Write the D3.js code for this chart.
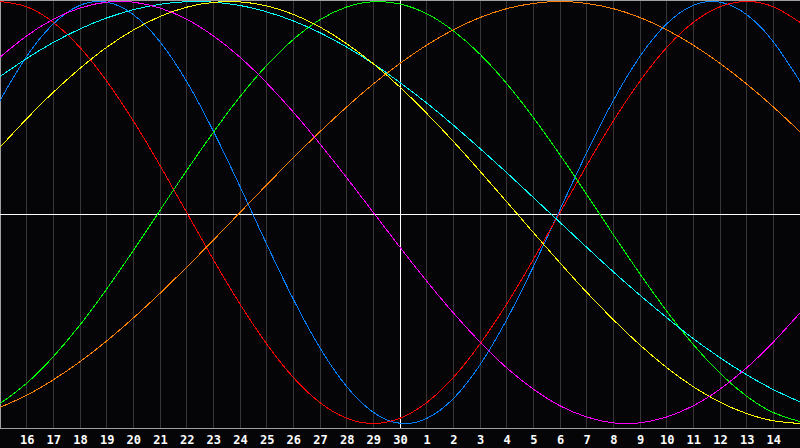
<!DOCTYPE html>
<html>
<head>
<meta charset="utf-8">
<script src="https://cdn.jsdelivr.net/npm/d3@7"></script>
<style>
  html, body { margin: 0; padding: 0; background: #050508; }
  svg { display: block; }
</style>
</head>
<body>
<svg id="chart" width="800" height="448"></svg>
<script>
// Day labels along the bottom (index 0 and 30 are the unlabelled edges)
const days = [15,16,17,18,19,20,21,22,23,24,25,26,27,28,29,30,1,2,3,4,5,6,7,8,9,10,11,12,13,14,15];
const centerDay = 15; // index of "30"

// Series values per day (-1 .. 1)
const physical     = [0.531,0.740,0.894,0.982,0.997,0.938,0.809,0.621,0.386,0.123,-0.150,-0.411,-0.642,-0.825,-0.947,-0.999,-0.976,-0.882,-0.722,-0.508,-0.257,0.014,0.283,0.531,0.740,0.894,0.982,0.997,0.938,0.809,0.621];
const emotional    = [1,0.975,0.901,0.782,0.623,0.434,0.223,0,-0.223,-0.434,-0.623,-0.782,-0.901,-0.975,-1,-0.975,-0.901,-0.782,-0.623,-0.434,-0.223,0,0.223,0.434,0.623,0.782,0.901,0.975,1,0.975,0.901];
const intellectual = [-0.906,-0.809,-0.683,-0.533,-0.363,-0.180,0.010,0.199,0.380,0.549,0.697,0.820,0.914,0.974,0.999,0.988,0.942,0.861,0.750,0.611,0.450,0.273,0.086,-0.105,-0.291,-0.467,-0.626,-0.762,-0.871,-0.948,-0.991];
const intuitive    = [0.736,0.837,0.916,0.969,0.997,0.997,0.969,0.916,0.837,0.736,0.614,0.476,0.325,0.165,0,-0.165,-0.325,-0.476,-0.614,-0.736,-0.837,-0.916,-0.969,-0.997,-0.997,-0.969,-0.916,-0.837,-0.736,-0.614,-0.476];
const aesthetic    = [0.309,0.444,0.570,0.683,0.783,0.865,0.929,0.973,0.996,0.998,0.979,0.939,0.879,0.800,0.705,0.594,0.470,0.337,0.196,0.051,-0.095,-0.239,-0.378,-0.508,-0.628,-0.735,-0.826,-0.899,-0.953,-0.987,-1.000];
const awareness    = [-0.924,-0.866,-0.793,-0.707,-0.609,-0.5,-0.383,-0.259,-0.131,0,0.131,0.259,0.383,0.5,0.609,0.707,0.793,0.866,0.924,0.966,0.991,1,0.991,0.966,0.924,0.866,0.793,0.707,0.609,0.5,0.383];
const spiritual    = [0.644,0.730,0.806,0.870,0.922,0.961,0.987,0.999,0.997,0.981,0.951,0.908,0.852,0.784,0.705,0.616,0.519,0.414,0.303,0.189,0.071,-0.047,-0.165,-0.281,-0.392,-0.498,-0.598,-0.688,-0.769,-0.839,-0.898];

const seriesNames  = ["physical","emotional","intellectual","spiritual","aesthetic","awareness","intuitive"];
const seriesValues = [physical, emotional, intellectual, spiritual, aesthetic, awareness, intuitive];
const seriesColors = ["#0080ff","#ff0000","#00ff00","#00ffff","#ffff00","#ff8000","#ff00ff"];

const W = 800, H = 448, plotH = 428;
const svg = d3.select("#chart");

const x = d3.scaleLinear().domain([0, days.length - 1]).range([0, W]);
const y = d3.scaleLinear().domain([-1, 1]).range([423.5, 1.5]);

svg.append("rect").attr("width", W).attr("height", H).attr("fill", "#050508");

const clip = svg.append("defs").append("clipPath").attr("id", "plotclip");
clip.append("rect").attr("x", 0).attr("y", 0).attr("width", W).attr("height", plotH);

// vertical day grid
const idx = d3.range(1, days.length - 1);
svg.append("g").selectAll("line")
  .data(idx.filter(i => i !== centerDay))
  .join("line")
  .attr("x1", i => Math.floor(x(i)) + 0.5)
  .attr("x2", i => Math.floor(x(i)) + 0.5)
  .attr("y1", 0).attr("y2", plotH)
  .attr("stroke", "#363636").attr("stroke-width", 1)
  .attr("shape-rendering", "crispEdges");

// border (top, left, bottom)
const border = svg.append("g").attr("stroke", "#a0a0a0").attr("stroke-width", 1).attr("shape-rendering", "crispEdges");
border.append("line").attr("x1", 0).attr("x2", W).attr("y1", 0.5).attr("y2", 0.5);
border.append("line").attr("x1", 0.5).attr("x2", 0.5).attr("y1", 0).attr("y2", plotH + 1);
border.append("line").attr("x1", 0).attr("x2", W).attr("y1", plotH + 0.5).attr("y2", plotH + 0.5);

// center cross (today + zero line)
svg.append("line")
  .attr("x1", Math.floor(x(centerDay)) + 0.5).attr("x2", Math.floor(x(centerDay)) + 0.5)
  .attr("y1", 0).attr("y2", plotH)
  .attr("stroke", "#ffffff").attr("shape-rendering", "crispEdges");
svg.append("line")
  .attr("x1", 0).attr("x2", W)
  .attr("y1", plotH / 2 + 0.5).attr("y2", plotH / 2 + 0.5)
  .attr("stroke", "#ffffff").attr("shape-rendering", "crispEdges");

// curves
const line = d3.line().x((d, i) => x(i)).y(d => y(d)).curve(d3.curveNatural);
svg.append("g").attr("clip-path", "url(#plotclip)")
  .selectAll("path")
  .data(seriesValues)
  .join("path")
  .attr("class", (d, i) => seriesNames[i])
  .attr("d", line)
  .attr("fill", "none")
  .attr("stroke", (d, i) => seriesColors[i])
  .attr("stroke-width", 1)
  .attr("shape-rendering", "crispEdges");

// day labels via axis
const axis = d3.axisBottom(x)
  .tickValues(idx)
  .tickFormat(i => days[i])
  .tickSize(0)
  .tickPadding(0);
const ag = svg.append("g").attr("transform", `translate(0,${plotH})`).call(axis);
ag.select(".domain").remove();
ag.selectAll("text")
  .attr("dy", null)
  .attr("y", 15.5)
  .attr("fill", "#ffffff")
  .attr("font-family", "'DejaVu Sans Mono', monospace")
  .attr("font-weight", "bold")
  .attr("font-size", "12px");
</script>
</body>
</html>
